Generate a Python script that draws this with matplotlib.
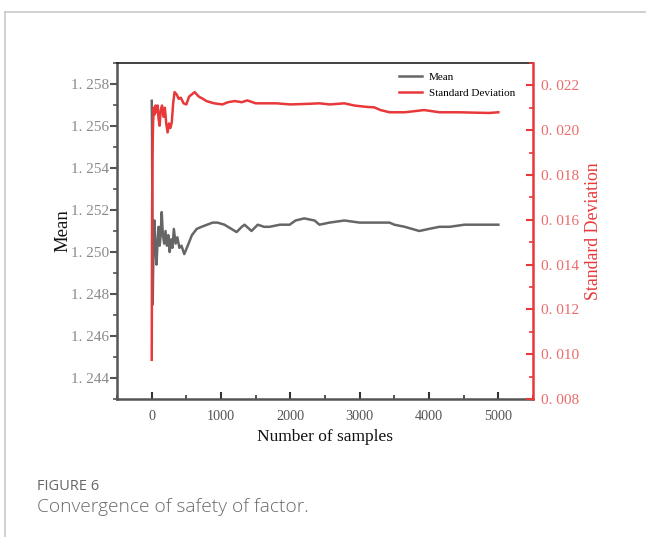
import matplotlib
matplotlib.use("Agg")
import matplotlib.pyplot as plt
from matplotlib.ticker import MultipleLocator, FuncFormatter
from matplotlib.lines import Line2D

# ---- data ----
mean_samples = [1, 5, 10, 15, 20, 30, 40, 55, 70, 85, 100, 115, 130, 145, 160, 180,
                200, 220, 240, 260, 280, 300, 320, 345, 370, 400, 430, 470, 520, 580,
                650, 720, 800, 880, 950, 1050, 1150, 1225, 1300, 1340, 1440, 1530,
                1620, 1700, 1850, 1990, 2075, 2200, 2350, 2420, 2565, 2780, 3000,
                3140, 3430, 3500, 3650, 3860, 4000, 4150, 4300, 4510, 4700, 4870, 5000]
mean_values = [1.2572, 1.2560, 1.2520, 1.2475, 1.2490, 1.2505, 1.2515, 1.2502, 1.2494,
               1.2505, 1.2512, 1.2503, 1.2508, 1.2519, 1.2509, 1.2504, 1.2510, 1.2503,
               1.2508, 1.2500, 1.2506, 1.2502, 1.2511, 1.2504, 1.2507, 1.2502, 1.2503,
               1.2499, 1.2503, 1.2508, 1.2511, 1.2512, 1.2513, 1.2514, 1.2514, 1.2513,
               1.2511, 1.25095, 1.2512, 1.2513, 1.2510, 1.2513, 1.2512, 1.2512, 1.2513,
               1.2513, 1.2515, 1.2516, 1.2515, 1.2513, 1.2514, 1.2515, 1.2514, 1.2514,
               1.2514, 1.2513, 1.2512, 1.2510, 1.2511, 1.2512, 1.2512, 1.2513, 1.2513,
               1.2513, 1.2513]

std_samples = [1, 3, 6, 10, 15, 20, 30, 40, 55, 70, 85, 100, 115, 130, 150, 170, 190,
               210, 230, 250, 270, 290, 310, 330, 360, 390, 420, 460, 500, 540, 580,
               620, 680, 740, 790, 900, 1020, 1100, 1200, 1300, 1380, 1500, 1630, 1800,
               2000, 2280, 2420, 2570, 2780, 2925, 3100, 3210, 3300, 3430, 3650, 3930,
               4150, 4440, 4700, 4870, 5000]
std_values = [0.00975, 0.0125, 0.0160, 0.0184, 0.0195, 0.0203, 0.0210, 0.0207, 0.0211,
              0.0208, 0.0211, 0.0205, 0.0202, 0.0209, 0.0211, 0.0206, 0.0210, 0.0203,
              0.0199, 0.0203, 0.0201, 0.02035, 0.0212, 0.0217, 0.0216, 0.0214, 0.02145,
              0.0212, 0.02115, 0.0215, 0.0216, 0.0217, 0.0215, 0.0214, 0.0213, 0.0212,
              0.02115, 0.02125, 0.0213, 0.02125, 0.02133, 0.0212, 0.0212, 0.0212,
              0.02115, 0.02118, 0.0212, 0.02115, 0.0212, 0.0211, 0.02104, 0.02102,
              0.0209, 0.0208, 0.0208, 0.0209, 0.0208, 0.0208, 0.02078, 0.02077, 0.0208]

x_ticks = [0, 1000, 2000, 3000, 4000, 5000]
mean_ticks = [1.244, 1.246, 1.248, 1.250, 1.252, 1.254, 1.256, 1.258]
std_ticks = [0.008, 0.010, 0.012, 0.014, 0.016, 0.018, 0.020, 0.022]

GRAY = "#666666"
RED = "#e8383a"
serif = ["Liberation Serif", "DejaVu Serif"]

fig = plt.figure(figsize=(6.46, 5.37), dpi=100)
ax = fig.add_axes([117/646, 1 - 399/537, (533 - 117)/646, (399 - 63)/537])
ax2 = ax.twinx()

ax.plot(mean_samples, mean_values, color=GRAY, lw=1.8, solid_joinstyle="round")
ax2.plot(std_samples, std_values, color=RED, lw=1.8, solid_joinstyle="round")

ax.set_xlim(-500, 5500)
ax.set_ylim(1.243, 1.259)
ax2.set_ylim(0.008, 0.023)

ax.set_xticks(x_ticks)
ax.xaxis.set_minor_locator(MultipleLocator(500))
ax.set_yticks(mean_ticks)
ax.yaxis.set_minor_locator(MultipleLocator(0.001))
ax2.set_yticks(std_ticks)
ax2.yaxis.set_minor_locator(MultipleLocator(0.001))

ax.yaxis.set_major_formatter(FuncFormatter(lambda v, p: f"{v:.3f}".replace(".", ". ")))
ax2.yaxis.set_major_formatter(FuncFormatter(lambda v, p: f"{v:.3f}".replace(".", ". ")))
ax.xaxis.set_major_formatter(FuncFormatter(lambda v, p: f"{int(round(v))}"))

ax.tick_params(axis="y", which="major", direction="out", length=5, width=1.5,
               color="#555555", labelsize=11, labelcolor="#8a8a8a", pad=1)
ax.tick_params(axis="y", which="minor", direction="out", length=3, width=1.2,
               color="#555555")
ax.tick_params(axis="x", which="major", direction="in", length=5, width=1.5,
               color="#333333", labelsize=10.3, labelcolor="#555555", pad=8)
ax.tick_params(axis="x", which="minor", direction="in", length=3, width=1.2,
               color="#333333")
ax.tick_params(axis="x", which="both", top=False)
ax2.tick_params(axis="y", which="major", direction="in", length=5, width=1.5,
                color=RED, labelsize=11, labelcolor="#ec6b6b", pad=6)
ax2.tick_params(axis="y", which="minor", direction="in", length=3, width=1.2,
                color=RED)

for lab in ax.get_xticklabels() + ax.get_yticklabels() + ax2.get_yticklabels():
    lab.set_family(serif)

for sp in ["left", "bottom"]:
    ax.spines[sp].set_color("#555555")
    ax.spines[sp].set_linewidth(1.8)
ax.spines["top"].set_color("#222222")
ax.spines["top"].set_linewidth(1.2)
ax2.spines["top"].set_visible(False)
ax2.spines["left"].set_visible(False)
ax2.spines["bottom"].set_visible(False)
ax2.spines["right"].set_color(RED)
ax2.spines["right"].set_linewidth(1.8)
ax.spines["right"].set_visible(False)

ax.set_xlabel("Number of samples", family=serif, fontsize=12.5, color="#111111", labelpad=4)
ax.set_ylabel("Mean", family=serif, fontsize=13.5, color="#111111", labelpad=-1)
ax2.set_ylabel("Standard Deviation", family=serif, fontsize=12.8, color=RED, labelpad=4)

handles = [Line2D([], [], color=GRAY, lw=1.8), Line2D([], [], color=RED, lw=1.8)]
ax2.legend(handles, ["Mean", "Standard Deviation"], loc="upper right",
           bbox_to_anchor=(0.975, 0.995), frameon=False,
           prop={"family": serif, "size": 8}, handlelength=2.1,
           handletextpad=0.6, labelspacing=0.55, borderaxespad=0.3)

# frame lines of the page panel
fig.add_artist(Line2D([5/646, 1], [1 - 12/537, 1 - 12/537], color="#c8c8c8", lw=1.2,
                      transform=fig.transFigure))
fig.add_artist(Line2D([5/646, 5/646], [0, 1 - 12/537], color="#c8c8c8", lw=1.2,
                      transform=fig.transFigure))

fig.text(37/646, 1 - 486/537, "FIGURE 6", family=["Open Sans", "DejaVu Sans"],
         fontsize=10.5, color="#666666", va="center", ha="left")
fig.text(37/646, 1 - 507/537, "Convergence of safety of factor.",
         family=["Open Sans", "DejaVu Sans"], fontsize=13.8, color="#6a6a6a",
         va="center", ha="left", fontweight="light")

fig.savefig("out.png", dpi=100)
